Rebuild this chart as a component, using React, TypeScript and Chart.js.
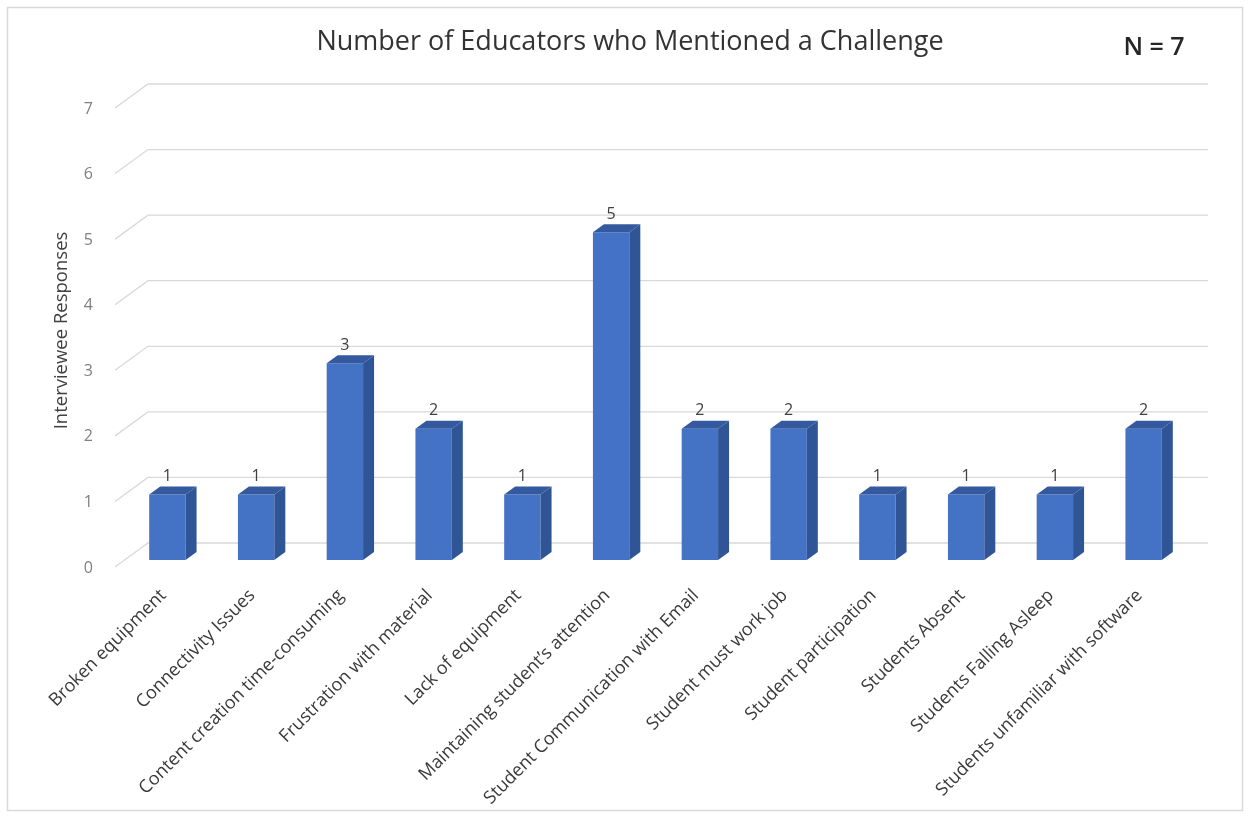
import React, { useEffect, useRef } from "react";
import { Chart, registerables } from "chart.js";

Chart.register(...registerables);

const categories = [
  "Broken equipment",
  "Connectivity Issues",
  "Content creation time-consuming",
  "Frustration with material",
  "Lack of equipment",
  "Maintaining student’s attention",
  "Student Communication with Email",
  "Student must work job",
  "Student participation",
  "Students Absent",
  "Students Falling Asleep",
  "Students unfamiliar with software",
];
const responses = [1, 1, 3, 2, 1, 5, 2, 2, 1, 1, 1, 2];
const yTicks = [0, 1, 2, 3, 4, 5, 6, 7];
const chartTitle = "Number of Educators who Mentioned a Challenge";
const sampleNote = "N = 7";
const yAxisTitle = "Interviewee Responses";

const FONT = "'Open Sans', 'Liberation Sans', sans-serif";
const DX = 11;
const DY = 8;
const WALL_X = 25;
const WALL_Y = 17;

const threeD = {
  id: "threeD",
  beforeDraw(chart: any) {
    const { ctx, width, height } = chart;
    ctx.save();
    ctx.fillStyle = "#ffffff";
    ctx.fillRect(0, 0, width, height);
    ctx.strokeStyle = "#d9d9d9";
    ctx.lineWidth = 1.5;
    ctx.strokeRect(7.5, 7.5, 1235, 803);
    ctx.restore();
  },
  beforeDatasetsDraw(chart: any) {
    const { ctx, chartArea } = chart;
    const y = chart.scales.y;
    ctx.save();
    ctx.strokeStyle = "#d9d9d9";
    ctx.lineWidth = 1.3;
    yTicks.forEach((v) => {
      const py = y.getPixelForValue(v);
      ctx.beginPath();
      ctx.moveTo(chartArea.left - 8, py + 7);
      ctx.lineTo(chartArea.left + WALL_X, py - WALL_Y);
      ctx.lineTo(chartArea.right + 20, py - WALL_Y);
      ctx.stroke();
    });
    ctx.restore();
  },
  afterDatasetsDraw(chart: any) {
    const { ctx } = chart;
    const meta = chart.getDatasetMeta(0);
    ctx.save();
    meta.data.forEach((bar: any, i: number) => {
      const { x, y, base, width } = bar.getProps(["x", "y", "base", "width"], true);
      const l = x - width / 2;
      const r = x + width / 2;
      ctx.fillStyle = "#2f5597";
      ctx.beginPath();
      ctx.moveTo(r, y);
      ctx.lineTo(r + DX, y - DY);
      ctx.lineTo(r + DX, base - DY);
      ctx.lineTo(r, base);
      ctx.closePath();
      ctx.fill();
      ctx.fillStyle = "#34599f";
      ctx.beginPath();
      ctx.moveTo(l, y);
      ctx.lineTo(l + DX, y - DY);
      ctx.lineTo(r + DX, y - DY);
      ctx.lineTo(r, y);
      ctx.closePath();
      ctx.fill();
      ctx.fillStyle = "#404040";
      ctx.font = `16px ${FONT}`;
      ctx.textAlign = "center";
      ctx.textBaseline = "middle";
      ctx.fillText(String(responses[i]), x, y - DY - 10);
    });
    ctx.restore();
  },
  afterDraw(chart: any) {
    const { ctx } = chart;
    ctx.save();
    ctx.fillStyle = "#333333";
    ctx.textAlign = "center";
    ctx.textBaseline = "middle";
    ctx.font = `27px ${FONT}`;
    ctx.fillText(chartTitle, 630, 42);
    ctx.fillStyle = "#262626";
    ctx.font = `600 25px ${FONT}`;
    ctx.fillText(sampleNote, 1154, 48);
    ctx.restore();
  },
};

export default function App() {
  const ref = useRef<HTMLCanvasElement | null>(null);
  useEffect(() => {
    if (!ref.current) return;
    const chart = new Chart(ref.current, {
      type: "bar",
      data: {
        labels: categories,
        datasets: [
          {
            data: responses,
            backgroundColor: "#4472c4",
            barPercentage: 0.41,
            categoryPercentage: 1,
          },
        ],
      },
      options: {
        animation: false,
        responsive: false,
        layout: { padding: { left: 0, top: 101, right: 60, bottom: 0 } },
        plugins: { legend: { display: false }, tooltip: { enabled: false } },
        scales: {
          x: {
            grid: { display: false, drawTicks: false },
            border: { display: false },
            ticks: {
              autoSkip: false,
              maxRotation: 45,
              minRotation: 45,
              padding: 25,
              labelOffset: -4,
              color: "#3a3a3a",
              font: { family: FONT, size: 18 },
            },
            afterFit: (s: any) => {
              s.height = 258;
            },
          },
          y: {
            min: 0,
            max: 7,
            grid: { display: false, drawTicks: false },
            border: { display: false },
            ticks: {
              stepSize: 1,
              padding: 30,
              labelOffset: 8,
              color: "#7f7f7f",
              font: { family: FONT, size: 16 },
            },
            title: {
              display: true,
              text: yAxisTitle,
              color: "#404040",
              font: { family: FONT, size: 18.5 },
              padding: { top: 51, bottom: 0 },
            },
            afterFit: (s: any) => {
              s.width = 123;
            },
          },
        },
      },
      plugins: [threeD],
    });
    return () => chart.destroy();
  }, []);
  return (
    <div style={{ position: "absolute", left: 0, top: 0, width: 1248, height: 818 }}>
      <canvas ref={ref} width={1248} height={818} />
    </div>
  );
}
